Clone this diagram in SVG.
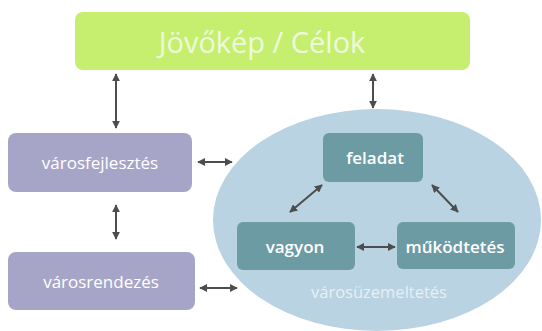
<svg xmlns="http://www.w3.org/2000/svg" width="542" height="331" viewBox="0 0 542 331">
<defs>
<marker id="ah" viewBox="0 0 10 10" refX="9" refY="5" markerWidth="4" markerHeight="4" orient="auto-start-reverse" markerUnits="strokeWidth"><path d="M0,0 L10,5 L0,10 z" fill="#4d4d4d"/></marker>
<style>
.conn{stroke:#4d4d4d;stroke-width:2;fill:none;marker-start:url(#ah);marker-end:url(#ah)}
.side{fill:#a7a5c7}
.inner{fill:#6c9ba4}
.t{font-family:"Open Sans","Noto Sans",sans-serif;fill:#ffffff;text-anchor:middle}
</style>
</defs>
<rect width="542" height="331" fill="#ffffff"/>
<g id="ellipse-varosuzemeltetes">
<ellipse cx="377" cy="220" rx="164" ry="111" fill="#b9d3e2"/>
<text class="t" x="379" y="298" font-size="16.5" style="fill:#e6f0f5">városüzemeltetés</text>
</g>
<g id="jovokep">
<rect x="75" y="12" width="395" height="58" rx="8" fill="#c6ef6f"/>
<text class="t" x="262" y="53" font-size="29" style="fill:#eef9dc">Jövőkép / Célok</text>
</g>
<g id="varosfejlesztes">
<rect class="side" x="8" y="133" width="184" height="59" rx="8"/>
<text class="t" x="100" y="169" font-size="17">városfejlesztés</text>
</g>
<g id="varosrendezes">
<rect class="side" x="8" y="252" width="187" height="58" rx="8"/>
<text class="t" x="101" y="288" font-size="17">városrendezés</text>
</g>
<g id="feladat">
<rect class="inner" x="323" y="133" width="100" height="49" rx="6"/>
<text class="t" x="375" y="164" font-size="17" font-weight="600">feladat</text>
</g>
<g id="vagyon">
<rect class="inner" x="237" y="222" width="118" height="48" rx="6"/>
<text class="t" x="295" y="253" font-size="17" font-weight="600">vagyon</text>
</g>
<g id="mukodtetes">
<rect class="inner" x="397" y="222" width="118" height="47" rx="6"/>
<text class="t" x="455" y="253" font-size="17" font-weight="600">működtetés</text>
</g>
<g id="connectors">
<line class="conn" x1="116" y1="74" x2="116" y2="128"/>
<line class="conn" x1="373" y1="74" x2="373" y2="108"/>
<line class="conn" x1="116" y1="205" x2="116" y2="239"/>
<line class="conn" x1="198" y1="162" x2="232" y2="162"/>
<line class="conn" x1="200" y1="288" x2="237" y2="288"/>
<line class="conn" x1="357" y1="247" x2="395" y2="247"/>
<line class="conn" x1="322" y1="185" x2="290" y2="212"/>
<line class="conn" x1="432" y1="185" x2="458" y2="212"/>
</g>
</svg>
